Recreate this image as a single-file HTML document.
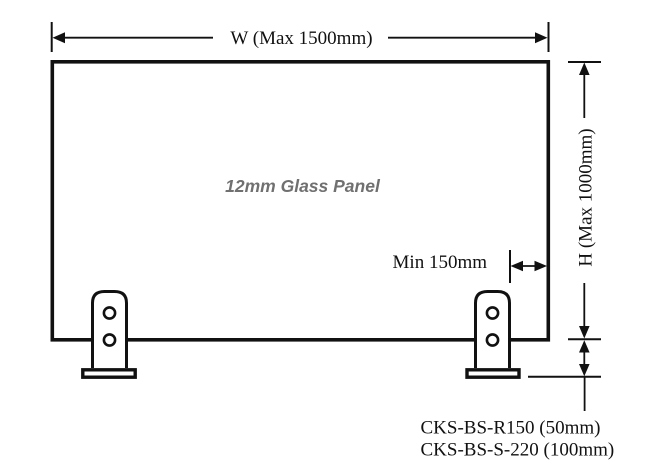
<!DOCTYPE html>
<html>
<head>
<meta charset="utf-8">
<style>
  html,body{margin:0;padding:0;background:#fff;}
  body{width:653px;height:476px;overflow:hidden;}
  svg{display:block;}
  .serif{font-family:"Liberation Serif","Times New Roman",serif;font-size:19px;fill:#111;}
</style>
</head>
<body>
<svg width="653" height="476" viewBox="0 0 653 476" xmlns="http://www.w3.org/2000/svg">
  <rect x="0" y="0" width="653" height="476" fill="#fff"/>

  <!-- W dimension -->
  <line x1="51.7" y1="22" x2="51.7" y2="52" stroke="#111" stroke-width="2"/>
  <line x1="548.5" y1="22" x2="548.5" y2="52" stroke="#111" stroke-width="2"/>
  <line x1="60" y1="37.7" x2="213" y2="37.7" stroke="#111" stroke-width="1.8"/>
  <line x1="388" y1="37.7" x2="540" y2="37.7" stroke="#111" stroke-width="1.8"/>
  <polygon points="52.5,37.7 65,32.2 65,43.2" fill="#111"/>
  <polygon points="547.5,37.7 535,32.2 535,43.2" fill="#111"/>
  <text class="serif" x="301.5" y="44" text-anchor="middle">W (Max 1500mm)</text>

  <!-- Glass panel -->
  <rect x="52.3" y="61.8" width="496" height="278" fill="none" stroke="#111" stroke-width="3.6"/>
  <text x="302.5" y="192" text-anchor="middle" font-family="Liberation Sans, Arial, sans-serif" font-size="17.5" font-weight="bold" font-style="italic" fill="#707070">12mm Glass Panel</text>

  <!-- Left post -->
  <path d="M92.5,368 L92.5,303 Q92.5,291.5 104.5,291.5 L114.5,291.5 Q126.5,291.5 126.5,303 L126.5,368" fill="#fff" stroke="#111" stroke-width="3"/>
  <circle cx="109.5" cy="313" r="5.6" fill="#fff" stroke="#111" stroke-width="2.6"/>
  <circle cx="109.5" cy="340" r="5.6" fill="#fff" stroke="#111" stroke-width="2.6"/>
  <rect x="82.8" y="369.8" width="52.4" height="7.4" fill="#fff" stroke="#111" stroke-width="3.4"/>

  <!-- Right post -->
  <path d="M475.5,368 L475.5,303 Q475.5,291.5 487.5,291.5 L497.5,291.5 Q509.5,291.5 509.5,303 L509.5,368" fill="#fff" stroke="#111" stroke-width="3"/>
  <circle cx="492.5" cy="313" r="5.6" fill="#fff" stroke="#111" stroke-width="2.6"/>
  <circle cx="492.5" cy="340" r="5.6" fill="#fff" stroke="#111" stroke-width="2.6"/>
  <rect x="467" y="369.8" width="52" height="7.4" fill="#fff" stroke="#111" stroke-width="3.4"/>

  <!-- Min 150mm -->
  <line x1="510" y1="250" x2="510" y2="283" stroke="#111" stroke-width="2"/>
  <line x1="520" y1="266" x2="538" y2="266" stroke="#111" stroke-width="1.8"/>
  <polygon points="510.5,266 523,260.8 523,271.2" fill="#111"/>
  <polygon points="547,266 534.5,260.8 534.5,271.2" fill="#111"/>
  <text class="serif" x="487" y="268" text-anchor="end">Min 150mm</text>

  <!-- H dimension -->
  <line x1="568" y1="62" x2="601" y2="62" stroke="#111" stroke-width="2"/>
  <line x1="584.3" y1="70" x2="584.3" y2="118" stroke="#111" stroke-width="1.8"/>
  <polygon points="584.3,62.5 579,75 589.6,75" fill="#111"/>
  <text class="serif" transform="translate(591.5,197.5) rotate(-90)" text-anchor="middle">H (Max 1000mm)</text>
  <line x1="584.3" y1="283" x2="584.3" y2="330" stroke="#111" stroke-width="1.8"/>
  <polygon points="584.3,338.5 579,326 589.6,326" fill="#111"/>
  <line x1="568" y1="339.3" x2="601" y2="339.3" stroke="#111" stroke-width="2"/>
  <polygon points="584.3,340.2 579,352.5 589.6,352.5" fill="#111"/>
  <line x1="584.3" y1="350" x2="584.3" y2="368" stroke="#111" stroke-width="1.8"/>
  <polygon points="584.3,376.3 579,364 589.6,364" fill="#111"/>
  <line x1="528" y1="376.8" x2="601" y2="376.8" stroke="#111" stroke-width="2"/>
  <line x1="584.6" y1="377" x2="584.6" y2="411" stroke="#111" stroke-width="1.8"/>

  <!-- Part labels -->
  <text class="serif" x="420.5" y="433.5">CKS-BS-R150 (50mm)</text>
  <text class="serif" x="420.5" y="455.5">CKS-BS-S-220 (100mm)</text>
</svg>
</body>
</html>
